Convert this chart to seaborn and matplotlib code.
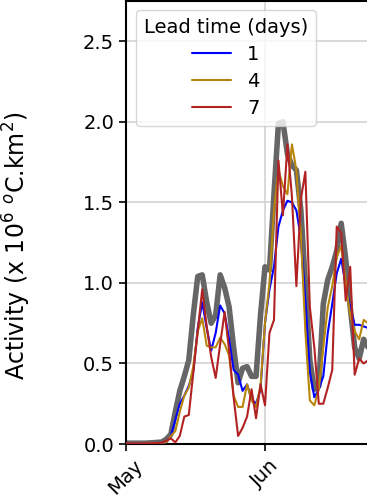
import numpy as np
import pandas as pd
import matplotlib
matplotlib.use("Agg")
import matplotlib.pyplot as plt
import matplotlib.dates as mdates
import seaborn as sns

start_date = "2019-05-01"

observed = [0.005, 0.005, 0.005, 0.005, 0.005, 0.006, 0.008, 0.01, 0.012, 0.03,
            0.06, 0.2, 0.33, 0.42, 0.52, 0.8, 1.04, 1.05, 0.88, 0.75,
            0.8, 1.05, 0.97, 0.85, 0.6, 0.38, 0.47, 0.48, 0.42, 0.42,
            0.8, 1.1, 1.08, 1.55, 1.99, 2.0, 1.8, 1.73, 1.70, 1.45,
            1.0, 0.52, 0.34, 0.36, 0.87, 1.02, 1.1, 1.2, 1.37, 1.15,
            0.85, 0.6, 0.53, 0.65, 0.6]

lead1 = [0.003, 0.003, 0.003, 0.003, 0.003, 0.004, 0.005, 0.006, 0.008, 0.01,
         0.05, 0.15, 0.25, 0.3, 0.36, 0.45, 0.72, 0.88, 0.72, 0.58,
         0.69, 0.86, 0.81, 0.65, 0.46, 0.43, 0.33, 0.37, 0.28, 0.25,
         0.34, 0.75, 0.96, 1.1, 1.35, 1.45, 1.51, 1.50, 1.45, 1.28,
         0.9, 0.45, 0.29, 0.34, 0.42, 0.69, 0.87, 1.06, 1.15, 0.98,
         0.85, 0.74, 0.74, 0.73, 0.72]

lead4 = [0.003, 0.003, 0.003, 0.003, 0.003, 0.004, 0.005, 0.006, 0.008, 0.01,
         0.05, 0.08, 0.2, 0.3, 0.35, 0.48, 0.7, 0.78, 0.61, 0.6,
         0.6, 0.66, 0.62, 0.55, 0.3, 0.23, 0.23, 0.37, 0.27, 0.23,
         0.36, 0.75, 1.0, 1.45, 1.7, 1.6, 1.55, 1.86, 1.7, 1.3,
         0.7, 0.27, 0.24, 0.34, 0.6, 0.85, 0.98, 1.16, 1.23, 1.0,
         0.8, 0.7, 0.65, 0.77, 0.75]

lead7 = [0.003, 0.003, 0.003, 0.003, 0.003, 0.004, 0.005, 0.006, 0.008, 0.02,
         0.035, 0.01, 0.05, 0.17, 0.18, 0.44, 0.7, 0.96, 0.73, 0.54,
         0.41, 0.62, 0.82, 0.58, 0.29, 0.05, 0.1, 0.17, 0.34, 0.16,
         0.37, 0.24, 0.69, 0.77, 1.76, 1.42, 1.86, 1.54, 0.98, 1.52,
         1.69, 0.85, 0.6, 0.25, 0.25, 0.35, 0.46, 1.35, 1.31, 0.89,
         1.1, 0.43, 0.53, 0.5, 0.52]

lead_labels = ["1", "4", "7"]
lead_colors = ["blue", "darkgoldenrod", "firebrick"]
month_ticks = ["2019-05-01", "2019-06-01"]

dates = pd.date_range(start_date, periods=len(observed), freq="D")
obs_df = pd.DataFrame({"date": dates, "activity": observed})
fc_df = pd.concat([
    pd.DataFrame({"date": dates, "activity": vals, "lead": lab})
    for lab, vals in zip(lead_labels, [lead1, lead4, lead7])
], ignore_index=True)

sns.set_style("ticks")
plt.rcParams["font.family"] = ["DejaVu Sans"]
plt.rcParams.update({"text.color": "black", "axes.labelcolor": "black",
                     "xtick.color": "black", "ytick.color": "black"})

fig = plt.figure(figsize=(3.67, 5.01), dpi=100)
ax_w_px = 300
ax_h_px = 443
ax = fig.add_axes([126 / 367, 57 / 501, ax_w_px / 367, ax_h_px / 501])

sns.lineplot(data=obs_df, x="date", y="activity", color="#666666", lw=4,
             ax=ax, legend=False, zorder=2)
sns.lineplot(data=fc_df, x="date", y="activity", hue="lead",
             palette=dict(zip(lead_labels, lead_colors)), lw=1.5, ax=ax, zorder=3)

x0 = pd.Timestamp(start_date)
px_per_day = 139 / 31
ax.set_xlim(x0, x0 + pd.Timedelta(days=ax_w_px / px_per_day))
ax.set_ylim(0, 2.75)
ax.set_yticks([0.0, 0.5, 1.0, 1.5, 2.0, 2.5])
ax.set_xticks(pd.to_datetime(month_ticks))
ax.xaxis.set_major_formatter(mdates.DateFormatter("%b"))
ax.grid(True, color="#d3d3d3", lw=1.2)
ax.set_axisbelow(True)
for s in ax.spines.values():
    s.set_linewidth(1.5)
    s.set_color("black")
ax.tick_params(axis="both", labelsize=14, width=1.2, length=5,
               color="black", labelcolor="black")
plt.setp(ax.get_xticklabels(), rotation=45, ha="center")
ax.set_xlabel("")
ax.set_ylabel(r"Activity (x 10$^6$ $^o$C.km$^2$)", fontsize=17, color="black")
ax.yaxis.set_label_coords((33 - 126) / ax_w_px, (444 - 246) / ax_h_px)

leg = ax.legend(title="Lead time (days)", loc="upper left",
                bbox_to_anchor=(10 / ax_w_px, 1 - 9 / ax_h_px),
                borderaxespad=0, fontsize=14, title_fontsize=14,
                frameon=True, handlelength=2.0, labelspacing=0.42)

fig.savefig("out.png", dpi=100)
